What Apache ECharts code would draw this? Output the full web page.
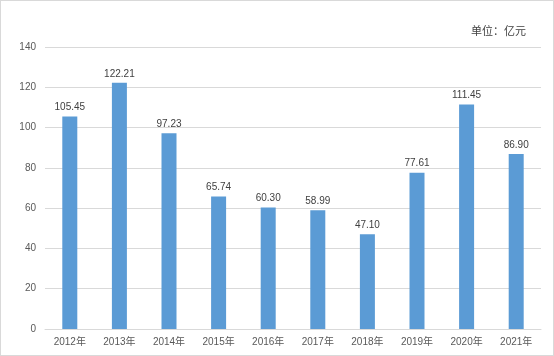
<!DOCTYPE html>
<html><head><meta charset="utf-8">
<script src="https://cdn.jsdelivr.net/npm/echarts@6/dist/echarts.min.js"></script>
<style>html,body{margin:0;padding:0;background:#fff;}#c{width:554px;height:356px;box-sizing:border-box;border:1px solid #d9d9d9;}</style>
</head><body><div id="c"></div>
<script>
var categories = ['2012年','2013年','2014年','2015年','2016年','2017年','2018年','2019年','2020年','2021年'];
var values = [105.45, 122.21, 97.23, 65.74, 60.30, 58.99, 47.10, 77.61, 111.45, 86.90];
var chart = echarts.init(document.getElementById('c'));
var font = '"Liberation Sans","Noto Sans CJK SC",sans-serif';
chart.setOption({
  animation: false,
  textStyle: {fontFamily: font},
  title: {text: '单位：亿元', right: 22, top: 20, textStyle: {fontSize: 11, fontWeight: 'normal', color: '#404040', fontFamily: font}},
  grid: {left: 44, right: 12, top: 46, bottom: 26},
  xAxis: {type: 'category', data: categories,
    axisLine: {lineStyle: {color: '#d9d9d9'}}, axisTick: {show: false},
    axisLabel: {color: '#595959', fontSize: 10, margin: 8}},
  yAxis: {type: 'value', min: 0, max: 140, interval: 20,
    axisLine: {show: false}, axisTick: {show: false},
    splitLine: {lineStyle: {color: '#d9d9d9'}},
    axisLabel: {color: '#595959', fontSize: 10, margin: 9}},
  series: [{type: 'bar', data: values, barWidth: 15,
    itemStyle: {color: '#5b9bd5'},
    label: {show: true, position: 'top', distance: 4, color: '#404040', fontSize: 10,
      formatter: function(p){return p.value.toFixed(2);}}}]
});
</script></body></html>
